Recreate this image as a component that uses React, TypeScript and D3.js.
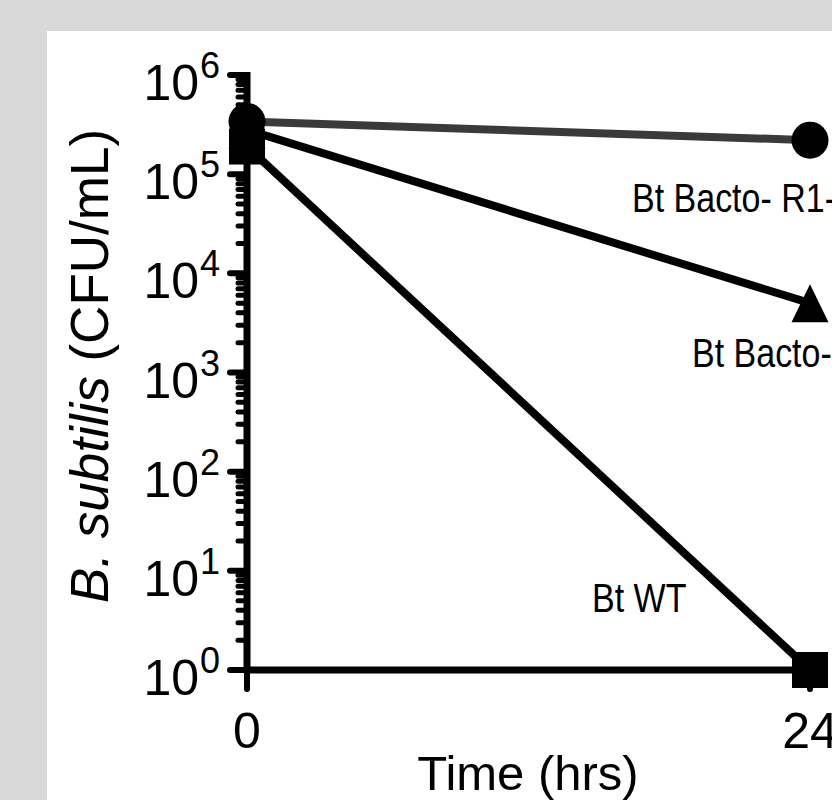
import { useEffect, useRef } from "react";
import * as d3 from "d3";

// ── Data ───────────────────────────────────────────────────────────────────────
const times = [0, 24];
const xTickValues = [0, 24];
const yTickExponents = [0, 1, 2, 3, 4, 5, 6];

const seriesNames = ["Bt Bacto- R1-", "Bt Bacto-", "Bt WT"];
const r1Values = [3.4e5, 2.2e5];
const bactoValues = [2.8e5, 5.0e3];
const wtValues = [1.9e5, 1];

// ── Component ──────────────────────────────────────────────────────────────────
export default function App() {
  const svgRef = useRef<SVGSVGElement>(null);

  useEffect(() => {
    if (!svgRef.current) return;

    const width = 832;
    const height = 800;
    const font = "'Liberation Sans', Arial, sans-serif";

    const x = d3.scaleLinear().domain([0, 24]).range([247, 810]);
    const y = d3.scaleLog().domain([1, 1e6]).range([670, 75]);

    const svg = d3.select(svgRef.current);
    svg.selectAll("*").remove();

    // ── Background panels ────────────────────────────────────────────────────
    svg.append("rect").attr("width", width).attr("height", height).attr("fill", "#d9d9d9");
    svg.append("rect")
      .attr("x", 47)
      .attr("y", 31)
      .attr("width", width - 47)
      .attr("height", height - 31)
      .attr("fill", "#ffffff");

    const g = svg.append("g");

    // ── Y axis (log, with minor ticks) ─────────────────────────────────────────
    const axisX = x(0);
    const minor: number[] = [];
    yTickExponents.slice(0, -1).forEach((k) => {
      for (let m = 2; m <= 9; m++) minor.push(m * Math.pow(10, k));
    });

    g.append("g")
      .selectAll("line")
      .data(minor)
      .enter()
      .append("line")
      .attr("x1", axisX - 9)
      .attr("x2", axisX)
      .attr("y1", (d) => y(d))
      .attr("y2", (d) => y(d))
      .attr("stroke", "#000")
      .attr("stroke-width", 5)
      .attr("stroke-linecap", "round");

    g.append("g")
      .selectAll("line")
      .data(yTickExponents)
      .enter()
      .append("line")
      .attr("x1", axisX - 17)
      .attr("x2", axisX)
      .attr("y1", (d) => y(Math.pow(10, d)))
      .attr("y2", (d) => y(Math.pow(10, d)))
      .attr("stroke", "#000")
      .attr("stroke-width", 6)
      .attr("stroke-linecap", "round");

    g.append("line")
      .attr("x1", axisX)
      .attr("x2", axisX)
      .attr("y1", y(1e6) - 3)
      .attr("y2", y(1))
      .attr("stroke", "#000")
      .attr("stroke-width", 7);

    // tick labels 10^n
    const yLab = g.append("g").attr("font-family", font).attr("fill", "#000");
    yLab.selectAll("text.base")
      .data(yTickExponents)
      .enter()
      .append("text")
      .attr("class", "base")
      .attr("x", 199)
      .attr("y", (d) => y(Math.pow(10, d)) + 25)
      .attr("font-size", 50)
      .attr("text-anchor", "end")
      .text("10");
    yLab.selectAll("text.exp")
      .data(yTickExponents)
      .enter()
      .append("text")
      .attr("class", "exp")
      .attr("x", 200)
      .attr("y", (d) => y(Math.pow(10, d)) + 3)
      .attr("font-size", 36)
      .text((d) => String(d));

    // Y label
    const yTitle = g.append("text")
      .attr("transform", "translate(108,366) rotate(-90)")
      .attr("text-anchor", "middle")
      .attr("font-family", font)
      .attr("font-size", 53)
      .attr("fill", "#000");
    yTitle.append("tspan").attr("font-style", "italic").text("B. subtilis");
    yTitle.append("tspan").text(" (CFU/mL)");

    // ── X axis ─────────────────────────────────────────────────────────────────
    g.append("line")
      .attr("x1", x(0))
      .attr("x2", x(24))
      .attr("y1", y(1))
      .attr("y2", y(1))
      .attr("stroke", "#000")
      .attr("stroke-width", 7);

    g.append("g")
      .selectAll("line")
      .data(xTickValues)
      .enter()
      .append("line")
      .attr("x1", (d) => x(d))
      .attr("x2", (d) => x(d))
      .attr("y1", y(1))
      .attr("y2", y(1) + 19)
      .attr("stroke", "#000")
      .attr("stroke-width", 6)
      .attr("stroke-linecap", "round");

    g.append("g")
      .selectAll("text")
      .data(xTickValues)
      .enter()
      .append("text")
      .attr("x", (d) => x(d))
      .attr("y", 748)
      .attr("text-anchor", "middle")
      .attr("font-family", font)
      .attr("font-size", 50)
      .text((d) => String(d));

    g.append("text")
      .attr("x", 528)
      .attr("y", 790)
      .attr("text-anchor", "middle")
      .attr("font-family", font)
      .attr("font-size", 49)
      .text("Time (hrs)");

    // ── Series lines ───────────────────────────────────────────────────────────
    const line = d3
      .line<number>()
      .x((_, i) => x(times[i]))
      .y((d) => y(d));

    g.append("path").attr("d", line(r1Values)).attr("fill", "none")
      .attr("stroke", "#3a3a3a").attr("stroke-width", 8);
    g.append("path").attr("d", line(bactoValues)).attr("fill", "none")
      .attr("stroke", "#000").attr("stroke-width", 8);
    g.append("path").attr("d", line(wtValues)).attr("fill", "none")
      .attr("stroke", "#000").attr("stroke-width", 8);

    // ── Markers ────────────────────────────────────────────────────────────────
    g.selectAll("path.tri")
      .data(bactoValues)
      .enter()
      .append("path")
      .attr("class", "tri")
      .attr("transform", (d, i) => `translate(${x(times[i])},${y(d)})`)
      .attr("d", "M0,-19L18.5,19L-18.5,19Z")
      .attr("fill", "#000");

    g.selectAll("rect.sq")
      .data(wtValues)
      .enter()
      .append("rect")
      .attr("class", "sq")
      .attr("x", (_, i) => x(times[i]) - 18)
      .attr("y", (d) => y(d) - 18)
      .attr("width", 36)
      .attr("height", 36)
      .attr("fill", "#000");

    g.selectAll("circle.dot")
      .data(r1Values)
      .enter()
      .append("circle")
      .attr("class", "dot")
      .attr("cx", (_, i) => x(times[i]))
      .attr("cy", (d) => y(d))
      .attr("r", 18.5)
      .attr("fill", "#000");

    // ── Series labels (next to last point) ─────────────────────────────────────
    const last = times.length - 1;
    const labelSpots = [
      { v: r1Values[last], dx: -178, dy: 72 },
      { v: bactoValues[last], dx: -118, dy: 64 },
      { v: wtValues[last], dx: -218, dy: -58 },
    ];
    labelSpots.forEach((s, i) => {
      g.append("text")
        .attr(
          "transform",
          `translate(${x(times[last]) + s.dx},${y(s.v) + s.dy}) scale(0.85,1)`
        )
        .attr("font-family", font)
        .attr("font-size", 40)
        .attr("fill", "#000")
        .text(seriesNames[i]);
    });
  }, []);

  return (
    <div style={{ position: "absolute", left: 0, top: 0 }}>
      <svg ref={svgRef} width={832} height={800} viewBox="0 0 832 800" style={{ display: "block" }} />
    </div>
  );
}
